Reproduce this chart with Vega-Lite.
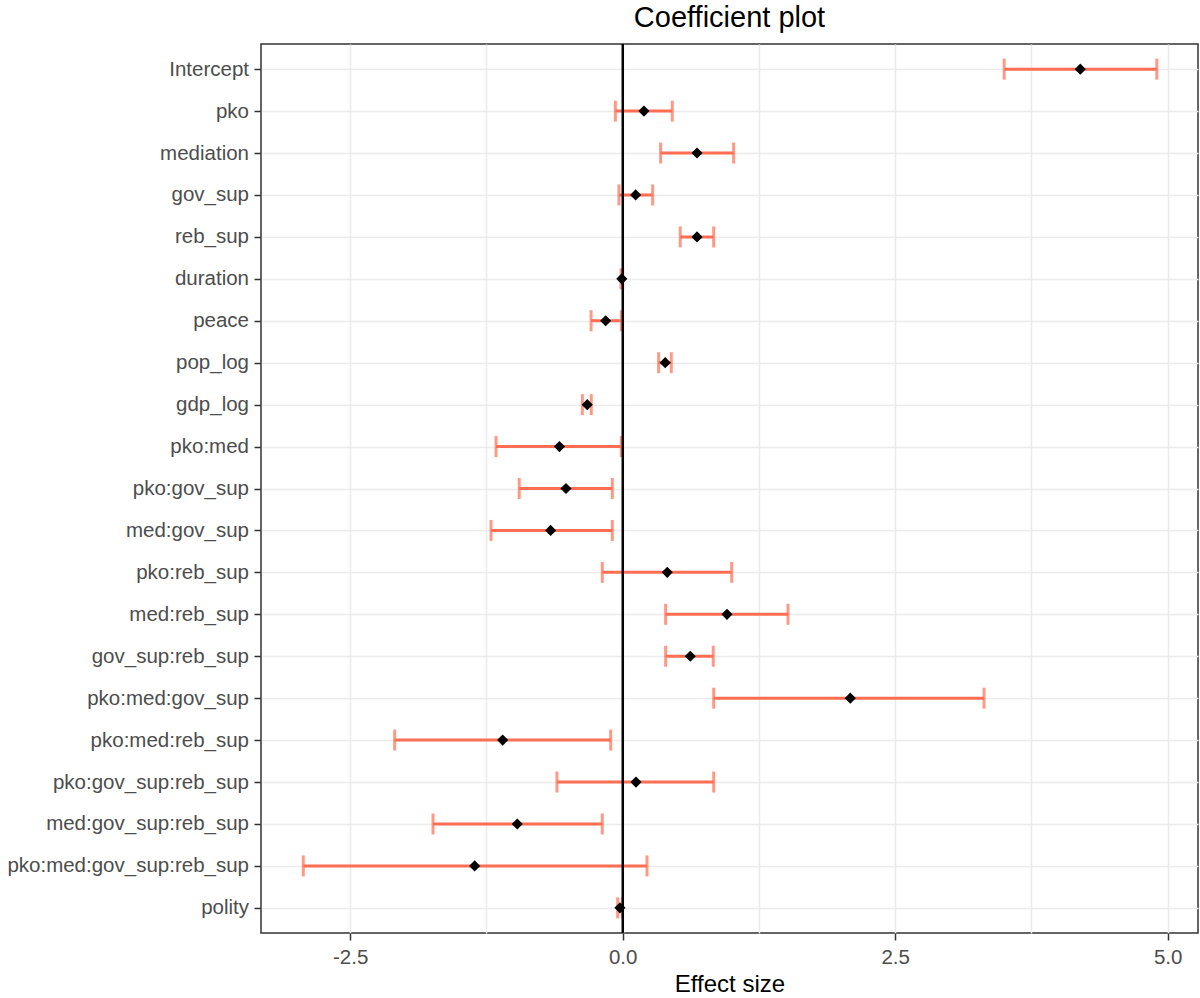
{
  "$schema": "https://vega.github.io/schema/vega-lite/v6.json",
  "autosize": {"type": "none"},
  "padding": {"left": 261, "top": 44, "right": 2, "bottom": 65},
  "width": 937,
  "height": 889,
  "background": "white",
  "title": {
    "text": "Coefficient plot",
    "font": "Liberation Sans",
    "fontSize": 29,
    "fontWeight": "normal",
    "color": "#000000",
    "anchor": "middle",
    "baseline": "alphabetic",
    "offset": 16,
    "dy": 29
  },
  "config": {
    "view": {"stroke": "#333333", "strokeWidth": 1.5},
    "axis": {
      "labelFont": "Liberation Sans",
      "labelFontSize": 20.5,
      "labelColor": "#4D4D4D",
      "labelLimit": 0,
      "titleFont": "Liberation Sans",
      "titleFontSize": 24,
      "titleFontWeight": "normal",
      "titleColor": "#000000",
      "tickColor": "#333333",
      "tickWidth": 1.5,
      "tickSize": 7,
      "gridColor": "#EBEBEB",
      "gridWidth": 1.5,
      "domain": false
    }
  },
  "data": {
    "values": [
      {"term": "Intercept", "estimate": 4.198, "lo": 3.50, "hi": 4.90},
      {"term": "pko", "estimate": 0.195, "lo": -0.067, "hi": 0.455},
      {"term": "mediation", "estimate": 0.682, "lo": 0.348, "hi": 1.018},
      {"term": "gov_sup", "estimate": 0.119, "lo": -0.034, "hi": 0.275},
      {"term": "reb_sup", "estimate": 0.682, "lo": 0.528, "hi": 0.835},
      {"term": "duration", "estimate": -0.008, "lo": -0.015, "hi": 0.0},
      {"term": "peace", "estimate": -0.156, "lo": -0.29, "hi": -0.013},
      {"term": "pop_log", "estimate": 0.39, "lo": 0.33, "hi": 0.446},
      {"term": "gdp_log", "estimate": -0.325, "lo": -0.37, "hi": -0.288},
      {"term": "pko:med", "estimate": -0.58, "lo": -1.162, "hi": -0.013},
      {"term": "pko:gov_sup", "estimate": -0.52, "lo": -0.949, "hi": -0.095},
      {"term": "med:gov_sup", "estimate": -0.661, "lo": -1.208, "hi": -0.095},
      {"term": "pko:reb_sup", "estimate": 0.409, "lo": -0.187, "hi": 1.0},
      {"term": "med:reb_sup", "estimate": 0.957, "lo": 0.394, "hi": 1.517},
      {"term": "gov_sup:reb_sup", "estimate": 0.62, "lo": 0.394, "hi": 0.831},
      {"term": "pko:med:gov_sup", "estimate": 2.088, "lo": 0.835, "hi": 3.315},
      {"term": "pko:med:reb_sup", "estimate": -1.101, "lo": -2.092, "hi": -0.11},
      {"term": "pko:gov_sup:reb_sup", "estimate": 0.122, "lo": -0.603, "hi": 0.835},
      {"term": "med:gov_sup:reb_sup", "estimate": -0.967, "lo": -1.74, "hi": -0.187},
      {"term": "pko:med:gov_sup:reb_sup", "estimate": -1.358, "lo": -2.93, "hi": 0.223},
      {"term": "polity", "estimate": -0.025, "lo": -0.046, "hi": -0.002}
    ]
  },
  "encoding": {
    "y": {
      "field": "term",
      "type": "nominal",
      "sort": null,
      "scale": {"type": "point", "padding": 0.6},
      "axis": {"title": null, "grid": true, "labelPadding": 5.5}
    }
  },
  "layer": [
    {
      "mark": {"type": "rule", "color": "#FF6E52", "strokeWidth": 3},
      "encoding": {
        "x": {
          "field": "lo",
          "type": "quantitative",
          "scale": {"domain": [-3.318, 5.278], "nice": false, "zero": false},
          "axis": {
            "title": "Effect size",
            "grid": true,
            "values": [-2.5, -1.25, 0, 1.25, 2.5, 3.75, 5],
            "labelExpr": "datum.value % 2.5 === 0 ? replace(format(datum.value, '.1f'), '\u2212', '-') : ''",
            "tickOpacity": {"condition": {"test": "datum.value % 2.5 !== 0", "value": 0}, "value": 1},
            "labelPadding": 7,
            "titlePadding": 5
          }
        },
        "x2": {"field": "hi"}
      }
    },
    {
      "mark": {"type": "tick", "color": "#FF6E52", "size": 21, "thickness": 3, "orient": "vertical"},
      "encoding": {"x": {"field": "lo", "type": "quantitative"}}
    },
    {
      "mark": {"type": "tick", "color": "#FF6E52", "size": 21, "thickness": 3, "orient": "vertical"},
      "encoding": {"x": {"field": "hi", "type": "quantitative"}}
    },
    {
      "mark": {"type": "rule", "color": "#000000", "strokeWidth": 1.4},
      "encoding": {"x": {"datum": 0, "type": "quantitative"}, "y": {"value": 0}, "y2": {"value": 889}}
    },
    {
      "mark": {"type": "point", "shape": "diamond", "filled": true, "color": "#000000", "size": 125, "opacity": 1},
      "encoding": {"x": {"field": "estimate", "type": "quantitative"}}
    }
  ]
}
